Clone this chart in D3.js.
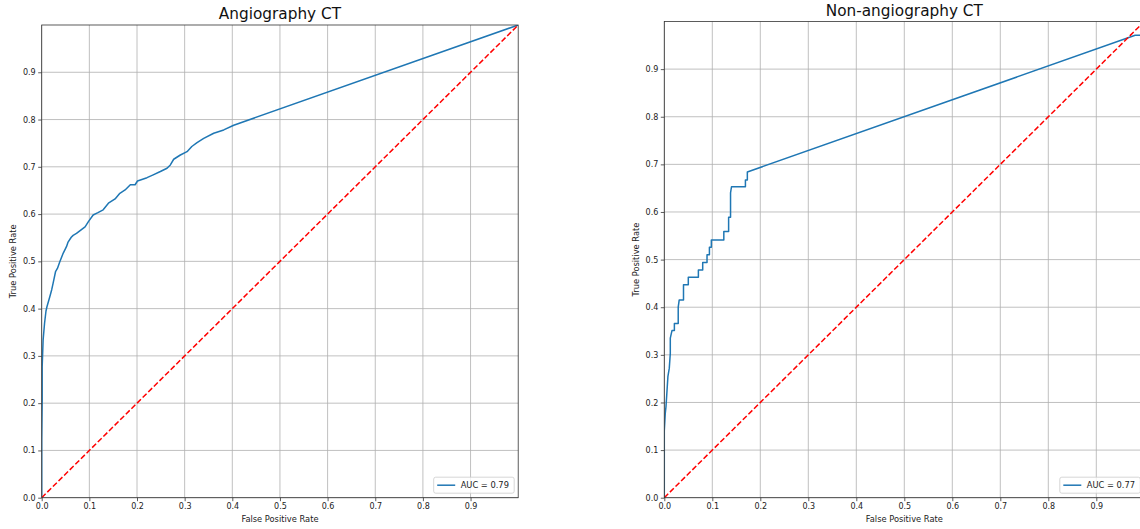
<!DOCTYPE html>
<html>
<head>
<meta charset="utf-8">
<script src="https://cdn.jsdelivr.net/npm/d3@7"></script>
<style>
  body { margin: 0; background: #fff; }
  svg { display: block; font-family: "DejaVu Sans", sans-serif; }
</style>
</head>
<body>
<div id="chart"></div>
<script>
// ROC data
var tickValues = [0.0, 0.1, 0.2, 0.3, 0.4, 0.5, 0.6, 0.7, 0.8, 0.9];
var panelTitles = ["Angiography CT", "Non-angiography CT"];
var aucLabels = ["AUC = 0.79", "AUC = 0.77"];

var angioFpr = [0, 0, 0.001, 0.001, 0.003, 0.006, 0.009, 0.011, 0.017, 0.021, 0.024, 0.029, 0.033, 0.038, 0.045,
  0.052, 0.055, 0.062, 0.066, 0.073, 0.082, 0.091, 0.098, 0.108, 0.118, 0.129, 0.140, 0.154, 0.164, 0.175,
  0.186, 0.196, 0.201, 0.221, 0.234, 0.249, 0.263, 0.270, 0.277, 0.291, 0.305, 0.315, 0.326, 0.340, 0.361,
  0.382, 0.403, 1.0];
var angioTpr = [0, 0.12, 0.207, 0.277, 0.334, 0.369, 0.395, 0.404, 0.425, 0.440, 0.454, 0.478, 0.485, 0.499, 0.517,
  0.531, 0.540, 0.551, 0.555, 0.559, 0.566, 0.573, 0.584, 0.598, 0.603, 0.609, 0.623, 0.632, 0.644, 0.651,
  0.662, 0.662, 0.670, 0.677, 0.683, 0.690, 0.697, 0.704, 0.716, 0.725, 0.732, 0.743, 0.751, 0.760, 0.771,
  0.778, 0.788, 1.0];

var nonAngioFpr = [0, 0, 0.002, 0.0035, 0.0075, 0.0104, 0.0125, 0.0125, 0.016, 0.021, 0.021, 0.029, 0.029, 0.031,
  0.040, 0.040, 0.050, 0.050, 0.071, 0.071, 0.080, 0.080, 0.089, 0.089, 0.094, 0.094, 0.098, 0.098, 0.124,
  0.124, 0.134, 0.134, 0.138, 0.138, 0.140, 0.169, 0.169, 0.173, 0.173, 0.981, 1.0, 1.0];
var nonAngioTpr = [0, 0.14, 0.177, 0.191, 0.254, 0.272, 0.303, 0.335, 0.351, 0.351, 0.366, 0.366, 0.400, 0.415,
  0.415, 0.447, 0.447, 0.463, 0.463, 0.478, 0.478, 0.494, 0.494, 0.510, 0.510, 0.526, 0.526, 0.541, 0.541,
  0.559, 0.559, 0.589, 0.589, 0.640, 0.653, 0.653, 0.667, 0.667, 0.684, 0.971, 0.971, 1.0];

var svg = d3.select("#chart").append("svg")
    .attr("width", 1140)
    .attr("height", 529);

// panel boxes (right one runs past the edge)
var panels = [
  {left: 41.7, right: 518.2, top: 25, bottom: 497.7, fpr: angioFpr, tpr: angioTpr},
  {left: 664.3, right: 1144.3, top: 21.5, bottom: 497.7, fpr: nonAngioFpr, tpr: nonAngioTpr}
];

panels.forEach(function(p, i) {
  var x = d3.scaleLinear().domain([0, 1]).range([p.left, p.right]);
  var y = d3.scaleLinear().domain([0, 1]).range([p.bottom, p.top]);
  var g = svg.append("g");

  var clipId = "clip" + i;
  g.append("clipPath").attr("id", clipId)
    .append("rect")
      .attr("x", p.left).attr("y", p.top)
      .attr("width", p.right - p.left).attr("height", p.bottom - p.top);

  // grid
  g.append("g").selectAll("line.vg").data(tickValues).enter().append("line")
    .attr("x1", d => x(d)).attr("x2", d => x(d))
    .attr("y1", p.top).attr("y2", p.bottom)
    .attr("stroke", "#b0b0b0").attr("stroke-width", 0.8);
  g.append("g").selectAll("line.hg").data(tickValues).enter().append("line")
    .attr("y1", d => y(d)).attr("y2", d => y(d))
    .attr("x1", p.left).attr("x2", p.right)
    .attr("stroke", "#b0b0b0").attr("stroke-width", 0.8);

  var plot = g.append("g").attr("clip-path", "url(#" + clipId + ")");

  // ROC curve
  var pts = p.fpr.map((f, k) => [f, p.tpr[k]]);
  plot.append("path")
    .datum(pts)
    .attr("fill", "none")
    .attr("stroke", "#1f77b4")
    .attr("stroke-width", 1.5)
    .attr("stroke-linejoin", "round")
    .attr("d", d3.line().x(d => x(d[0])).y(d => y(d[1])));

  // chance line
  plot.append("path")
    .datum([[0, 0], [1, 1]])
    .attr("fill", "none")
    .attr("stroke", "#ff0000")
    .attr("stroke-width", 1.5)
    .attr("stroke-dasharray", "5.5,2.4")
    .attr("d", d3.line().x(d => x(d[0])).y(d => y(d[1])));

  // axes
  var xAxis = g.append("g")
    .attr("transform", "translate(0," + p.bottom + ")")
    .call(d3.axisBottom(x).tickValues(tickValues).tickFormat(d3.format(".1f")).tickSize(3.5).tickPadding(2));
  var yAxis = g.append("g")
    .attr("transform", "translate(" + p.left + ",0)")
    .call(d3.axisLeft(y).tickValues(tickValues).tickFormat(d3.format(".1f")).tickSize(3.5).tickPadding(2.5));
  [xAxis, yAxis].forEach(a => {
    a.select(".domain").remove();
    a.selectAll("line").attr("stroke", "#333").attr("stroke-width", 0.8);
    a.selectAll("text").attr("fill", "#222").style("font-size", "8px").style("font-family", "DejaVu Sans");
  });

  // frame
  g.append("rect")
    .attr("x", p.left).attr("y", p.top)
    .attr("width", p.right - p.left).attr("height", p.bottom - p.top)
    .attr("fill", "none").attr("stroke", "#333").attr("stroke-width", 0.8);

  // labels
  g.append("text")
    .attr("x", (p.left + p.right) / 2).attr("y", p.top - 6)
    .attr("text-anchor", "middle")
    .style("font-size", "15.3px").attr("fill", "#111")
    .text(panelTitles[i]);
  g.append("text")
    .attr("x", (p.left + p.right) / 2).attr("y", 521.5)
    .attr("text-anchor", "middle")
    .style("font-size", "8.3px").attr("fill", "#222")
    .text("False Positive Rate");
  g.append("text")
    .attr("transform", "translate(" + (p.left - 25.3) + "," + ((p.top + p.bottom) / 2) + ") rotate(-90)")
    .attr("text-anchor", "middle")
    .style("font-size", "8.3px").attr("fill", "#222")
    .text("True Positive Rate");

  // legend
  var lw = 80.5, lh = 16;
  var lx = p.right - 4 - lw, ly = p.bottom - 4.5 - lh;
  var leg = g.append("g");
  leg.append("rect")
    .attr("x", lx).attr("y", ly).attr("width", lw).attr("height", lh).attr("rx", 2)
    .attr("fill", "#fff").attr("fill-opacity", 0.8)
    .attr("stroke", "#cccccc").attr("stroke-width", 0.8);
  leg.append("line")
    .attr("x1", lx + 3.5).attr("x2", lx + 21.5)
    .attr("y1", ly + lh / 2).attr("y2", ly + lh / 2)
    .attr("stroke", "#1f77b4").attr("stroke-width", 1.5);
  leg.append("text")
    .attr("x", lx + 27).attr("y", ly + lh / 2 + 3)
    .style("font-size", "8.3px").attr("fill", "#222")
    .text(aucLabels[i]);
});
</script>
</body>
</html>
